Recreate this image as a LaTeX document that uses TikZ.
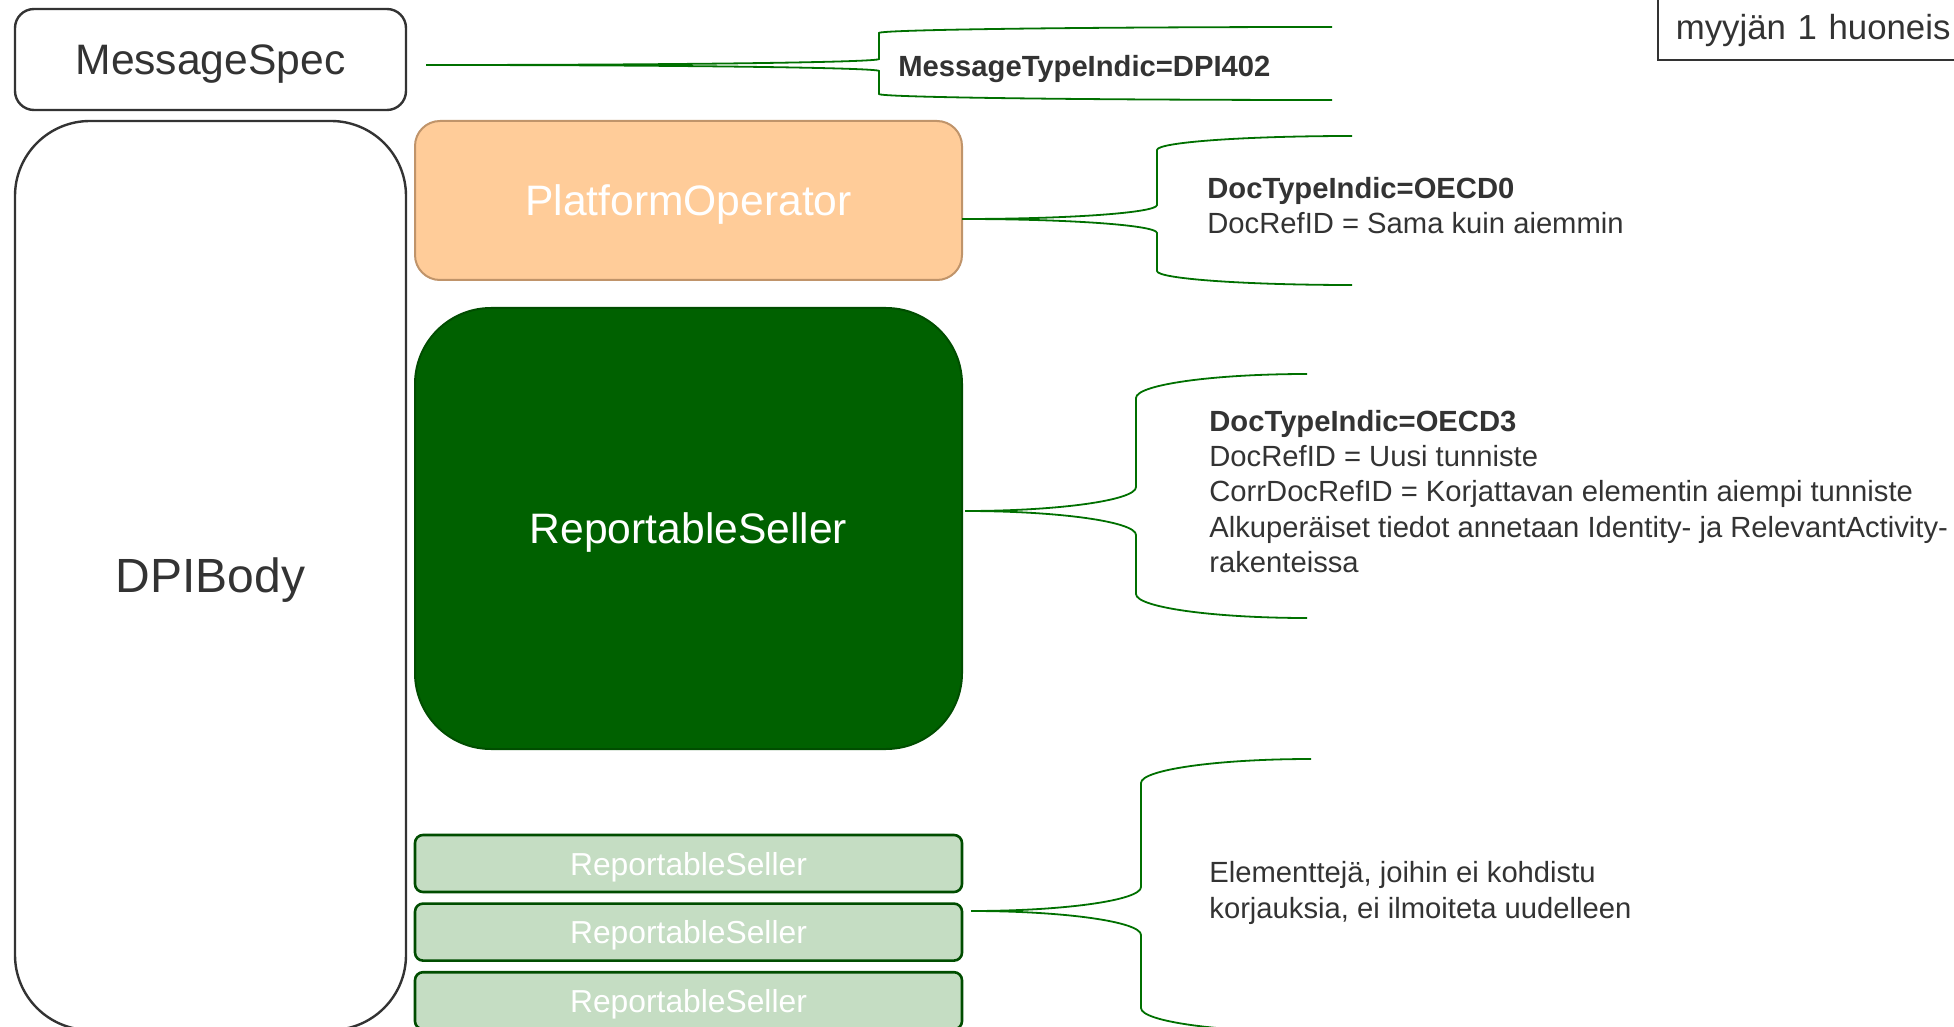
\documentclass[tikz,border=0pt]{standalone}
\usepackage{fontspec}
\setmainfont{Liberation Sans}
\usetikzlibrary{positioning}
\definecolor{txtgray}{RGB}{51,51,51}
\definecolor{opfill}{RGB}{255,204,153}
\definecolor{opdraw}{RGB}{192,148,106}
\definecolor{rsfill}{RGB}{0,97,0}
\definecolor{rsdraw}{RGB}{0,77,0}
\definecolor{rslight}{RGB}{197,221,195}
\definecolor{bracegreen}{RGB}{0,112,0}
% brace: tip x, tip y, half width, top y, bottom y, curve height
\newcommand{\drawbrace}[6]{%
  \draw[bracket] ({#1+2*#3},#4) .. controls ({#1+2*#3-0.5523*#3},#4) and ({#1+#3},{#4+0.4477*#6}) .. ({#1+#3},{#4+#6})
    -- ({#1+#3},{#2-#6}) .. controls ({#1+#3},{#2-0.4477*#6}) and ({#1+0.5523*#3},#2) .. (#1,#2)
    .. controls ({#1+0.5523*#3},#2) and ({#1+#3},{#2+0.4477*#6}) .. ({#1+#3},{#2+#6})
    -- ({#1+#3},{#5-#6}) .. controls ({#1+#3},{#5-0.4477*#6}) and ({#1+2*#3-0.5523*#3},#5) .. ({#1+2*#3},#5);}
\begin{document}
\begin{tikzpicture}[x=0.5pt,y=-0.5pt]
    \tikzstyle{box} = [draw = txtgray, line width = 1.2pt, text = txtgray, minimum width = 195.5pt, inner sep = 0pt, text depth = 0pt]
    \tikzstyle{seller} = [fill = rsfill, draw = rsdraw, line width = 1pt, text = white, minimum width = 273.5pt, inner sep = 0pt, text depth = 0pt, font = \fontsize{21.3}{25}\selectfont]
    \tikzstyle{sellersmall} = [fill = rslight, draw = rsdraw, line width = 1.3pt, text = white, minimum width = 273.5pt, minimum height = 28.5pt, rounded corners = 4pt, inner sep = 0pt, text depth = 0pt, font = \fontsize{15.9}{19}\selectfont]
    \tikzstyle{note} = [anchor = west, align = left, inner sep = 0pt, text = txtgray, font = \fontsize{14.6}{17.6}\selectfont]
    \tikzstyle{bracket} = [draw = bracegreen, line width = 0.9pt]
    \useasboundingbox (0,0) rectangle (1954,1027);
    \clip (0,0) rectangle (1954,1027);

    \node[box, minimum height = 50.5pt, rounded corners = 9.5pt, font = \fontsize{21.3}{25}\selectfont](spec) at (210.5,59.5){MessageSpec};
    \node[box, minimum height = 454.5pt, rounded corners = 37.5pt, font = \fontsize{24}{28}\selectfont](body) at (210.5,575.5){DPIBody};
    \node[seller, fill = opfill, draw = opdraw, minimum height = 79.5pt, rounded corners = 12.5pt](op) at (688.5,200.5){PlatformOperator};
    \node[seller, minimum height = 220.5pt, rounded corners = 38pt](rs) at (688.5,528.5){ReportableSeller};
    \node[sellersmall](rsA) at (688.5,863.5){ReportableSeller};
    \node[sellersmall, below = 4.5pt of rsA](rsB){ReportableSeller};
    \node[sellersmall, below = 4.5pt of rsB](rsC){ReportableSeller};

    \node[draw = txtgray, line width = 0.8pt, anchor = south west, minimum height = 33pt, text width = 190pt, inner xsep = 9pt, inner ysep = 0pt, text depth = 0pt, text = txtgray, font = \fontsize{17.4}{21}\selectfont](seller1) at (1657,61){myyjän 1 huoneis};

    \node[note](mti) at (898,69){\textbf{MessageTypeIndic=DPI402}};
    \node[note](opnote) at (1207,205.5){\textbf{DocTypeIndic=OECD0}\\DocRefID = Sama kuin aiemmin};
    \node[note](rsnote) at (1209,491.5){\textbf{DocTypeIndic=OECD3}\\DocRefID = Uusi tunniste\\CorrDocRefID = Korjattavan elementin aiempi tunniste\\Alkuperäiset tiedot annetaan Identity- ja RelevantActivity-\\rakenteissa};
    \node[note](keepnote) at (1209,893){Elementtejä, joihin ei kohdistu\\korjauksia, ei ilmoiteta uudelleen};

    \drawbrace{426}{65}{453}{27}{100}{6}
    \drawbrace{962}{219}{195}{136}{285}{14}
    \drawbrace{965}{511}{171}{374}{618}{24}
    \drawbrace{971}{911}{170}{759}{1032}{24}
\end{tikzpicture}
\end{document}
